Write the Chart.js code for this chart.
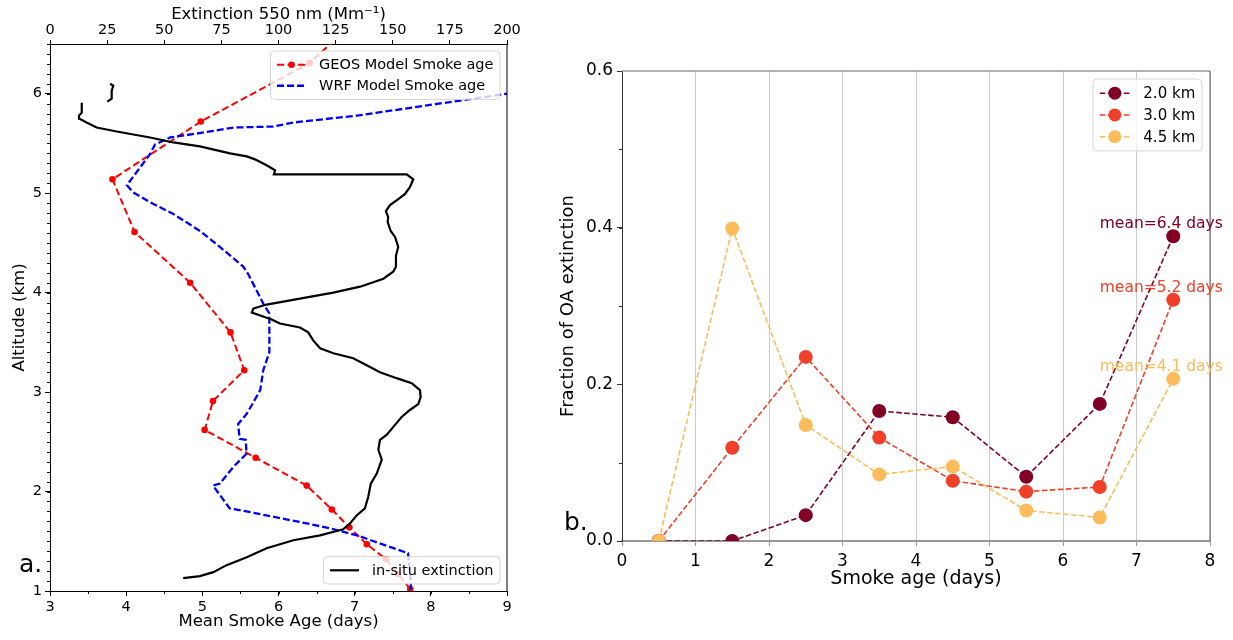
<!DOCTYPE html>
<html>
<head>
<meta charset="utf-8">
<script src="https://cdn.jsdelivr.net/npm/chart.js@4.4.1/dist/chart.umd.min.js"></script>
<style>
  body { margin: 0; background: #fff; width: 1233px; height: 640px; position: relative; overflow: hidden; }
  #leftChart { position: absolute; left: 0; top: 0; }
  #rightChart { position: absolute; left: 545px; top: 0; }
</style>
</head>
<body>
<canvas id="leftChart" width="530" height="640"></canvas>
<canvas id="rightChart" width="688" height="640"></canvas>
<script>
// ---- panel a: vertical profiles ----
// GEOS model smoke age (days) vs altitude (km)
const geosAge = [7.73, 7.57, 7.41, 7.16, 6.93, 6.70, 6.37, 5.70, 5.03, 5.14, 5.55, 5.37, 4.84, 4.11, 3.82, 4.98, 6.41, 7.10];
const geosAlt = [1.02, 1.17, 1.32, 1.47, 1.64, 1.82, 2.06, 2.34, 2.62, 2.91, 3.22, 3.60, 4.10, 4.61, 5.14, 5.72, 6.31, 6.80];

// WRF model smoke age (days) vs altitude (km)
const wrfAge = [7.73, 7.74, 7.70, 7.25, 7.03, 6.68, 6.37, 5.58, 5.36, 5.14, 5.23, 5.41, 5.58, 5.57, 5.49, 5.47, 5.58, 5.65, 5.76, 5.80, 5.88, 5.88, 5.88, 5.80, 5.60, 5.54, 5.23, 4.97, 4.62, 4.31, 4.09, 4.01, 4.31, 4.38, 4.58, 4.93, 5.41, 5.93, 6.19, 7.03, 9.00, 10.0];
const wrfAlt = [1.01, 1.08, 1.38, 1.50, 1.56, 1.63, 1.68, 1.80, 1.83, 2.06, 2.08, 2.25, 2.38, 2.52, 2.53, 2.68, 2.78, 2.87, 3.02, 3.22, 3.40, 3.72, 3.79, 3.89, 4.19, 4.26, 4.46, 4.62, 4.79, 4.91, 5.01, 5.08, 5.39, 5.49, 5.56, 5.60, 5.66, 5.67, 5.71, 5.78, 6.00, 6.11];

// in-situ extinction at 550 nm (Mm-1) vs altitude (km); null = gap in the flight record
const insituExt = [58.3, 65.6, 71.5, 77.3, 86.1, 94.8, 106.5, 118.2, 128.3, 131.3, 134.2, 137.8, 139.3, 140.4, 143.0, 145.2, 143.7, 144.4, 147.3, 151.0,
  153.9, 157.5, 161.2, 162.2, 161.9, 158.3, 151.7, 144.4, 138.6, 132.7, 124.0, 118.2, 115.2, 113.0, 109.4, 100.6, 97.0, 93.3, 88.3, 89.0,
  94.8, 109.4, 124.0, 135.7, 145.9, 150.2, 151.4, 151.4, 152.4, 151.0, 149.1, 147.8, 148.0, 147.0, 148.8, 152.4, 155.3, 157.5, 159.0, 156.1,
  98.0, 98.5, 94.8, 89.7, 86.1, 78.8, 65.6, 54.0, 43.8, 29.2, 20.4, 16.0, 12.8, 12.7, 13.9, 13.9, null, 25.1, 27.0, 27.0, 27.7, 26.3];
const insituAlt = [1.13, 1.15, 1.19, 1.26, 1.34, 1.43, 1.51, 1.56, 1.62, 1.68, 1.76, 1.83, 1.95, 2.08, 2.18, 2.32, 2.42, 2.52, 2.57, 2.67,
  2.75, 2.82, 2.88, 2.95, 3.02, 3.09, 3.14, 3.20, 3.27, 3.34, 3.39, 3.44, 3.52, 3.60, 3.65, 3.69, 3.73, 3.76, 3.80, 3.84,
  3.88, 3.94, 4.00, 4.06, 4.14, 4.21, 4.26, 4.37, 4.46, 4.56, 4.62, 4.71, 4.76, 4.82, 4.88, 4.94, 4.99, 5.06, 5.14, 5.19,
  5.19, 5.23, 5.28, 5.34, 5.37, 5.40, 5.47, 5.51, 5.56, 5.62, 5.66, 5.71, 5.75, 5.78, 5.81, 5.91, null, 5.92, 5.95, 6.03, 6.08, 6.10];

// ---- panel b: smoke age distribution ----
const smokeAge = [0.5, 1.5, 2.5, 3.5, 4.5, 5.5, 6.5, 7.5];
const frac20 = [0.000, 0.000, 0.033, 0.166, 0.158, 0.082, 0.175, 0.389];
const frac30 = [0.000, 0.119, 0.235, 0.132, 0.077, 0.063, 0.069, 0.308];
const frac45 = [0.000, 0.399, 0.148, 0.085, 0.095, 0.039, 0.030, 0.207];
const levelLabels = ['2.0 km', '3.0 km', '4.5 km'];
const meanAges = [6.4, 5.2, 4.1];

Chart.defaults.font.family = "'DejaVu Sans', sans-serif";
Chart.defaults.color = '#000';

const zip = (xs, ys) => xs.map((x, i) => ({ x: x, y: ys[i] }));

// small outward ticks between the labelled ones
const minorTicks = {
  id: 'minorTicks',
  afterDraw(chart, args, opts) {
    const ctx = chart.ctx;
    ctx.save();
    (opts.axes || []).forEach(a => {
      const s = chart.scales[a.id];
      ctx.strokeStyle = a.color;
      ctx.lineWidth = 1;
      for (let v = s.min; v <= s.max + 1e-9; v += a.step) {
        const p = Math.round(s.getPixelForValue(v)) + 0.5;
        ctx.beginPath();
        if (s.isHorizontal()) {
          const y0 = s.position === 'top' ? s.bottom : s.top;
          ctx.moveTo(p, y0);
          ctx.lineTo(p, y0 + (s.position === 'top' ? -a.len : a.len));
        } else {
          ctx.moveTo(s.right, p);
          ctx.lineTo(s.right - a.len, p);
        }
        ctx.stroke();
      }
    });
    ctx.restore();
  }
};

// remaining spines of the axes box
const frame = {
  id: 'frame',
  afterDatasetsDraw(chart, args, opts) {
    const ctx = chart.ctx, a = chart.chartArea;
    ctx.save();
    if (opts.top) {
      ctx.strokeStyle = opts.top.color; ctx.lineWidth = opts.top.width;
      ctx.beginPath(); ctx.moveTo(a.left, a.top); ctx.lineTo(a.right, a.top); ctx.stroke();
    }
    if (opts.right) {
      ctx.strokeStyle = opts.right.color; ctx.lineWidth = opts.right.width;
      ctx.beginPath(); ctx.moveTo(a.right, a.top); ctx.lineTo(a.right, a.bottom); ctx.stroke();
    }
    ctx.restore();
  }
};

// matplotlib-like legend boxes drawn inside the axes
const boxLegend = {
  id: 'boxLegend',
  afterDraw(chart, args, opts) {
    const ctx = chart.ctx, area = chart.chartArea;
    const fs = opts.fontSize;
    ctx.save();
    ctx.font = fs + "px 'DejaVu Sans'";
    (opts.boxes || []).forEach(b => {
      const sets = b.items.map(i => chart.data.datasets[i]);
      const textW = Math.max(...sets.map(d => ctx.measureText(d.label).width));
      const padX = 0.45 * fs, handle = 2 * fs, gap = 0.9 * fs, rowH = 1.45 * fs, padY = 0.22 * fs;
      const w = padX * 2 + handle + gap + textW;
      const h = padY * 2 + rowH * sets.length;
      const x = area.right - opts.margin - w;
      const y = b.loc === 'lower right' ? area.bottom - opts.margin - h : area.top + opts.margin;
      ctx.setLineDash([]);
      ctx.beginPath();
      ctx.roundRect(x, y, w, h, 4);
      ctx.fillStyle = 'rgba(255,255,255,0.8)';
      ctx.fill();
      ctx.strokeStyle = 'rgba(204,204,204,0.8)';
      ctx.lineWidth = 1;
      ctx.stroke();
      sets.forEach((d, k) => {
        const cy = y + padY + rowH * (k + 0.5);
        const hx = x + padX;
        ctx.strokeStyle = d.borderColor;
        ctx.lineWidth = d.borderWidth;
        ctx.setLineDash(d.borderDash || []);
        ctx.beginPath(); ctx.moveTo(hx, cy); ctx.lineTo(hx + handle, cy); ctx.stroke();
        ctx.setLineDash([]);
        if (d.pointRadius > 0) {
          ctx.fillStyle = d.pointBackgroundColor;
          ctx.beginPath(); ctx.arc(hx + handle / 2, cy, Math.min(d.pointRadius, 6.5), 0, Math.PI * 2); ctx.fill();
        }
        ctx.fillStyle = '#000';
        ctx.textBaseline = 'middle';
        ctx.textAlign = 'left';
        ctx.fillText(d.label, hx + handle + gap, cy + 1);
      });
    });
    ctx.restore();
  }
};

// free text: panel tags and mean age notes
const notes = {
  id: 'notes',
  afterDatasetsDraw(chart, args, opts) {
    const ctx = chart.ctx;
    ctx.save();
    ctx.textAlign = 'left';
    ctx.textBaseline = 'alphabetic';
    if (opts.tag) {
      ctx.font = "25px 'DejaVu Sans'";
      ctx.fillStyle = '#000';
      ctx.fillText(opts.tag.text, opts.tag.x, opts.tag.y);
    }
    if (opts.means) {
      const xs = chart.scales.x, ys = chart.scales.y;
      ctx.font = "15.5px 'DejaVu Sans'";
      chart.data.datasets.forEach((d, i) => {
        const last = d.data[d.data.length - 1];
        ctx.fillStyle = d.borderColor;
        ctx.fillText('mean=' + opts.means[i].toFixed(1) + ' days',
          xs.getPixelForValue(smokeAge[smokeAge.length - 2]), ys.getPixelForValue(last.y + 0.01));
      });
    }
    ctx.restore();
  }
};

// ---------- panel a ----------
new Chart(document.getElementById('leftChart'), {
  type: 'scatter',
  data: {
    datasets: [
      {
        label: 'GEOS Model Smoke age',
        data: zip(geosAge, geosAlt),
        xAxisID: 'x', yAxisID: 'y',
        showLine: true,
        borderColor: '#ff0000',
        borderWidth: 2,
        borderDash: [7, 3.5],
        pointRadius: 3.3,
        pointBackgroundColor: '#ff0000',
        pointBorderWidth: 0,
        order: 3
      },
      {
        label: 'WRF Model Smoke age',
        data: zip(wrfAge, wrfAlt),
        xAxisID: 'x', yAxisID: 'y',
        showLine: true,
        borderColor: '#0000ff',
        borderWidth: 2.3,
        borderDash: [7, 3],
        pointRadius: 0,
        order: 2
      },
      {
        label: 'in-situ extinction',
        data: zip(insituExt, insituAlt),
        xAxisID: 'xTop', yAxisID: 'y',
        showLine: true,
        borderColor: '#000000',
        borderWidth: 2.2,
        pointRadius: 0,
        spanGaps: false,
        order: 1
      }
    ]
  },
  options: {
    responsive: false,
    animation: false,
    events: [],
    layout: { padding: { left: 0, right: 23, top: 0, bottom: 0 } },
    plugins: {
      legend: { display: false },
      tooltip: { enabled: false },
      minorTicks: { axes: [
        { id: 'y', step: 0.1, len: 3, color: '#000' },
        { id: 'x', step: 0.5, len: 3, color: '#000' }
      ] },
      frame: { right: { color: '#000', width: 1 } },
      boxLegend: { fontSize: 14.5, margin: 7, boxes: [
        { items: [0, 1], loc: 'upper right' },
        { items: [2], loc: 'lower right' }
      ] },
      notes: { tag: { text: 'a.', x: 19, y: 572 } }
    },
    scales: {
      x: {
        type: 'linear', position: 'bottom', min: 3, max: 9,
        ticks: { stepSize: 1, font: { size: 14.5 }, color: '#000', padding: 3 },
        grid: { drawOnChartArea: false, tickLength: 5, tickColor: '#000' },
        border: { color: '#000', width: 1 },
        title: { display: true, text: 'Mean Smoke Age (days)', font: { size: 16.5 }, color: '#000', padding: { top: 4, bottom: 8 } },
        afterFit: s => { s.height = 49; }
      },
      xTop: {
        type: 'linear', position: 'top', min: 0, max: 200,
        ticks: { stepSize: 25, font: { size: 14.5 }, color: '#000', padding: 1 },
        grid: { drawOnChartArea: false, tickLength: 4, tickColor: '#000' },
        border: { color: '#000', width: 1 },
        title: { display: true, text: 'Extinction 550 nm (Mm\u207B\u00B9)', font: { size: 16.5 }, color: '#000', padding: { top: 5, bottom: 4 } },
        afterFit: s => { s.height = 44; }
      },
      y: {
        type: 'linear', position: 'left', min: 1, max: 6.5,
        ticks: { stepSize: 1, includeBounds: false, font: { size: 14.5 }, color: '#000', padding: 3 },
        grid: { drawOnChartArea: false, tickLength: 5, tickColor: '#000' },
        border: { color: '#000', width: 1 },
        title: { display: true, text: 'Altitude (km)', font: { size: 16.5 }, color: '#000', padding: { top: 10, bottom: 4 } },
        afterFit: s => { s.width = 50; }
      }
    }
  },
  plugins: [minorTicks, frame, boxLegend, notes]
});

// ---------- panel b ----------
const levelColors = ['#800026', '#f0402a', '#fdbb5b'];
const levelFracs = [frac20, frac30, frac45];

new Chart(document.getElementById('rightChart'), {
  type: 'scatter',
  data: {
    datasets: levelFracs.map((f, i) => ({
      label: levelLabels[i],
      data: zip(smokeAge, f),
      showLine: true,
      borderColor: levelColors[i],
      borderWidth: 1.6,
      borderDash: [5.5, 2.5],
      pointRadius: 7,
      pointBackgroundColor: levelColors[i],
      pointBorderWidth: 0,
      order: 3 - i
    }))
  },
  options: {
    responsive: false,
    animation: false,
    events: [],
    layout: { padding: { left: 0, right: 23, top: 71, bottom: 0 } },
    plugins: {
      legend: { display: false },
      tooltip: { enabled: false },
      minorTicks: { axes: [ { id: 'y', step: 0.1, len: 3, color: '#333' } ] },
      frame: { top: { color: '#999', width: 1.5 }, right: { color: '#555', width: 1 } },
      boxLegend: { fontSize: 15, margin: 8, boxes: [ { items: [0, 1, 2], loc: 'upper right' } ] },
      notes: { tag: { text: 'b.', x: 19, y: 530 }, means: meanAges }
    },
    scales: {
      x: {
        type: 'linear', min: 0, max: 8,
        ticks: { stepSize: 1, font: { size: 17 }, color: '#000', padding: 5 },
        grid: { color: '#cccccc', lineWidth: 1, tickLength: 5, tickColor: '#999' },
        border: { color: '#999', width: 2 },
        title: { display: true, text: 'Smoke age (days)', font: { size: 19 }, color: '#000', padding: { top: 4, bottom: 50 } },
        afterFit: s => { s.height = 99; }
      },
      y: {
        type: 'linear', min: 0, max: 0.6,
        ticks: { stepSize: 0.2, font: { size: 17 }, color: '#000', padding: 4, callback: v => v.toFixed(1) },
        grid: { drawOnChartArea: false, tickLength: 5, tickColor: '#333' },
        border: { color: '#333', width: 1 },
        title: { display: true, text: 'Fraction of OA extinction', font: { size: 18 }, color: '#000', padding: { top: 13, bottom: 4 } },
        afterFit: s => { s.width = 77; }
      }
    }
  },
  plugins: [minorTicks, frame, boxLegend, notes]
});
</script>
</body>
</html>
